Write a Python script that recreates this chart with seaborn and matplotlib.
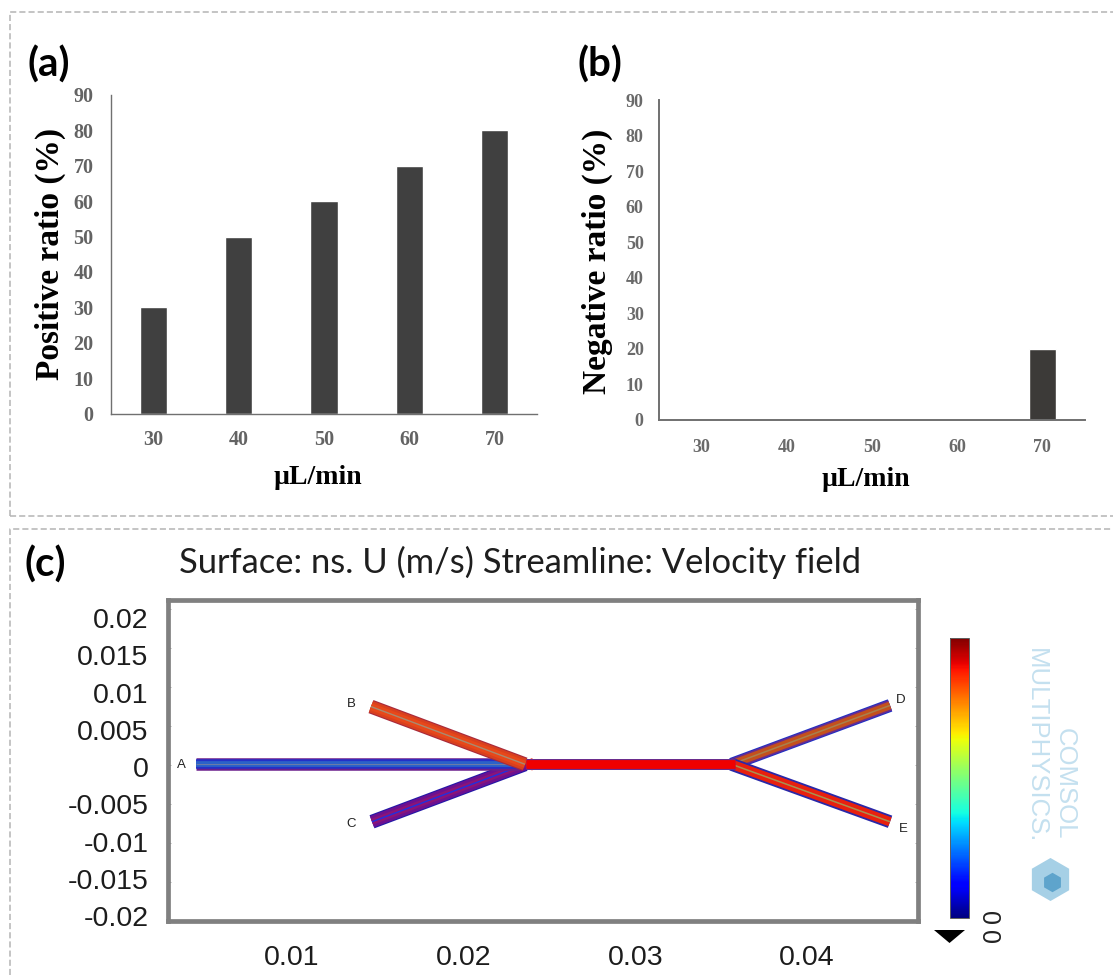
import matplotlib
matplotlib.use("Agg")
import matplotlib.pyplot as plt
from matplotlib.lines import Line2D
from matplotlib.patches import Polygon
from matplotlib.cm import ScalarMappable
from matplotlib.colors import Normalize
import pandas as pd
import seaborn as sns

W, H = 1114, 975
flow_rates = ["30", "40", "50", "60", "70"]
positive_ratio = [30, 50, 60, 70, 80]
negative_ratio = [0, 0, 0, 0, 20]
ratio_ticks = [0, 10, 20, 30, 40, 50, 60, 70, 80, 90]

field_y_ticks = [0.02, 0.015, 0.01, 0.005, 0, -0.005, -0.01, -0.015, -0.02]
field_y_labels = ["0.02", "0.015", "0.01", "0.005", "0", "-0.005", "-0.01", "-0.015", "-0.02"]
field_x_ticks = [0.01, 0.02, 0.03, 0.04]
field_x_labels = ["0.01", "0.02", "0.03", "0.04"]

channel_a_x = [0.0044, 0.0232]
channel_a_y = [0.0001, 0.0001]
channel_b_x = [0.0146, 0.02357]
channel_b_y = [0.0075, 0.0001]
channel_c_x = [0.01466, 0.02357]
channel_c_y = [-0.00727, 0.0001]
channel_main_x = [0.0236, 0.0358]
channel_main_y = [0.0001, 0.0001]
channel_d_x = [0.0356, 0.04483]
channel_d_y = [0.0001, 0.00765]
channel_e_x = [0.0356, 0.04483]
channel_e_y = [0.0001, -0.00727]
junction_x = [0.0231, 0.0240, 0.0240]
junction_y = [0.0001, 0.0009, -0.0007]

sns.set_theme(style="white")
plt.rcParams["font.family"] = ["Liberation Serif", "DejaVu Serif"]


def axes_px(fig, left, top, right, bottom, **kw):
    return fig.add_axes([left / W, 1 - bottom / H, (right - left) / W, (bottom - top) / H], **kw)


def text_px(fig, x, y, s, **kw):
    kw.setdefault("ha", "center")
    kw.setdefault("va", "center")
    return fig.text(x / W, 1 - y / H, s, **kw)


def ratio_panel(fig, box, values, ylabel, color, tick_size, tick_color, x_pad, y_pad, spine_w, label_xy, xlabel_xy):
    ax = axes_px(fig, *box)
    df = pd.DataFrame({"flow": flow_rates, "ratio": values})
    sns.barplot(data=df, x="flow", y="ratio", color=color, saturation=1, width=0.32, ax=ax)
    ax.set_xlim(-0.5, 4.5)
    ax.set_ylim(0, 90)
    ax.set_yticks(ratio_ticks)
    ax.set_xlabel("")
    ax.set_ylabel("")
    sns.despine(ax=ax)
    for side in ("left", "bottom"):
        ax.spines[side].set_color("#707070")
        ax.spines[side].set_linewidth(spine_w)
    ax.tick_params(axis="both", length=0, labelsize=tick_size, labelcolor=tick_color)
    ax.tick_params(axis="x", pad=x_pad)
    ax.tick_params(axis="y", pad=y_pad)
    for t in ax.get_xticklabels() + ax.get_yticklabels():
        t.set_fontweight("bold")
    text_px(fig, *label_xy, ylabel, rotation=90, fontsize=24, fontweight="bold", color="black")
    text_px(fig, *xlabel_xy, "\u00b5L/min", fontsize=20, fontweight="bold", color="black")
    return ax


fig = plt.figure(figsize=(W / 100, H / 100), dpi=100, facecolor="white")

# dashed panel frames
dash = dict(color="#b4b4b4", lw=1.1, linestyle=(0, (4, 2)), transform=fig.transFigure)
frame_top = [(10, 516), (10, 12), (1113, 12)]
frame_low = [(10, 975), (10, 529), (1113, 529)]
for pts in (frame_top, frame_low):
    fig.add_artist(Line2D([p[0] / W for p in pts], [1 - p[1] / H for p in pts], **dash))
fig.add_artist(Line2D([10 / W, 1113 / W], [1 - 516 / H, 1 - 516 / H], **dash))

ratio_panel(fig, (111, 95, 537, 413.5), positive_ratio, "Positive ratio (%)", "#404040",
            14.5, "#636363", 12, 12.5, 1.0, (50, 254), (318, 478))
ratio_panel(fig, (659, 100, 1085, 420), negative_ratio, "Negative ratio (%)", "#3c3a38",
            13, "#6a6a6a", 14, 11, 1.4, (597, 261), (866, 479))

label_font = ["Lato", "DejaVu Sans"]
text_px(fig, 49, 65, "(a)", fontsize=29, fontweight="bold", family=label_font, color="black")
text_px(fig, 600, 65, "(b)", fontsize=29, fontweight="bold", family=label_font, color="black")
text_px(fig, 45, 565, "(c)", fontsize=29, fontweight="bold", family=label_font, color="black")
text_px(fig, 520, 562, "Surface: ns. U (m/s) Streamline: Velocity field", fontsize=24.8,
        family=["Lato", "DejaVu Sans"], color="#1e1e1e")

# simulation panel: frame with true ticks
left, top, right, bottom = 168, 600, 918, 921
ax = axes_px(fig, left, top, right, bottom)
ax.set_xlim(0.01 + (left - 292) / 17170, 0.01 + (right - 292) / 17170)
ax.set_ylim((766 - bottom) / 7840, (766 - top) / 7840)
for s in ax.spines.values():
    s.set_color("#808080")
    s.set_linewidth(3.4)
    s.set_visible(True)
ax.set_yticks(field_y_ticks)
ax.set_xticks(field_x_ticks)
ax.tick_params(axis="both", direction="in", length=2, width=0.6, color="#a0a0a0",
               left=True, right=True, bottom=False, labelleft=False, labelbottom=False)


def channel(xs, ys, width_px, layers):
    for color, frac in layers:
        ax.plot(xs, ys, color=color, lw=width_px * frac * 0.72, solid_capstyle="butt")


channel(channel_c_x, channel_c_y, 14, [("#2418a8", 1), ("#6c1090", .84), ("#8a1478", .45), ("#2030e0", .1)])
channel(channel_a_x, channel_a_y, 12.5, [("#6a1f8c", 1), ("#2430c8", .76), ("#2c62c8", .46), ("#6a7aa8", .08)])
channel(channel_b_x, channel_b_y, 14, [("#a82a3c", 1), ("#d8401e", .84), ("#e8481a", .5), ("#a88a70", .1)])
channel(channel_d_x, channel_d_y, 13, [("#1c30c8", 1), ("#6a2c8c", .85), ("#c4501c", .6), ("#a8804c", .12)])
channel(channel_e_x, channel_e_y, 13, [("#2a28a8", 1), ("#e8200e", .72), ("#a89050", .12)])
channel(channel_main_x, channel_main_y, 11, [("#6a2c8c", 1), ("#f00000", .8)])
ax.fill(junction_x, junction_y, color="#f01a08", lw=0)

for x, y, s in [(181, 765, "A"), (351, 704, "B"), (351, 824, "C"), (901, 700, "D"), (903, 829, "E")]:
    text_px(fig, x, y, s, fontsize=9.5, family=["Liberation Sans"], color="#222222")

# pasted tick labels sit at their own spacing, so they get their own transparent scale
lab = axes_px(fig, left, top, right, bottom, facecolor="none", zorder=3)
lab.set_xlim(ax.get_xlim())
lab.set_ylim((767 - bottom) / 7450, (767 - top) / 7450)
lab.set_yticks(field_y_ticks, field_y_labels)
lab.set_xticks(field_x_ticks, field_x_labels)
lab.tick_params(axis="both", length=0, labelsize=20.5, labelcolor="#1c1c1c")
lab.tick_params(axis="x", pad=17)
lab.tick_params(axis="y", pad=14)
for t in lab.get_xticklabels() + lab.get_yticklabels():
    t.set_fontfamily(["Liberation Sans"])
for s in lab.spines.values():
    s.set_visible(False)

# colour scale
cax = axes_px(fig, 950, 638, 969, 918)
cb = fig.colorbar(ScalarMappable(norm=Normalize(0, 1), cmap="jet"), cax=cax)
cb.set_ticks([])
cb.outline.set_edgecolor("#606060")
cb.outline.set_linewidth(0.7)
text_px(fig, 988, 918, "0", rotation=-90, fontsize=18, family=["Liberation Sans"], color="#222222")
text_px(fig, 988, 937, "0", rotation=-90, fontsize=18, family=["Liberation Sans"], color="#222222")
fig.add_artist(Polygon([(934 / W, 1 - 930 / H), (965 / W, 1 - 930 / H), (949.5 / W, 1 - 943 / H)],
                       closed=True, facecolor="black", edgecolor="none", transform=fig.transFigure))

# watermark
water = "#c4e0ef"
text_px(fig, 1065, 784, "COMSOL", rotation=-90, fontsize=18.5, family=["Liberation Sans"], color=water)
text_px(fig, 1036, 746, "MULTIPHYSICS.", rotation=-90, fontsize=18.5, family=["Liberation Sans"], color=water)
fig.add_artist(Line2D([1050 / W], [1 - 879 / H], marker="h", markersize=31, color="#a6d0e6",
                      transform=fig.transFigure, markeredgewidth=0))
fig.add_artist(Line2D([1052 / W], [1 - 882 / H], marker="h", markersize=14, color="#5ea4cc",
                      transform=fig.transFigure, markeredgewidth=0))

fig.savefig("out.png", dpi=100)
